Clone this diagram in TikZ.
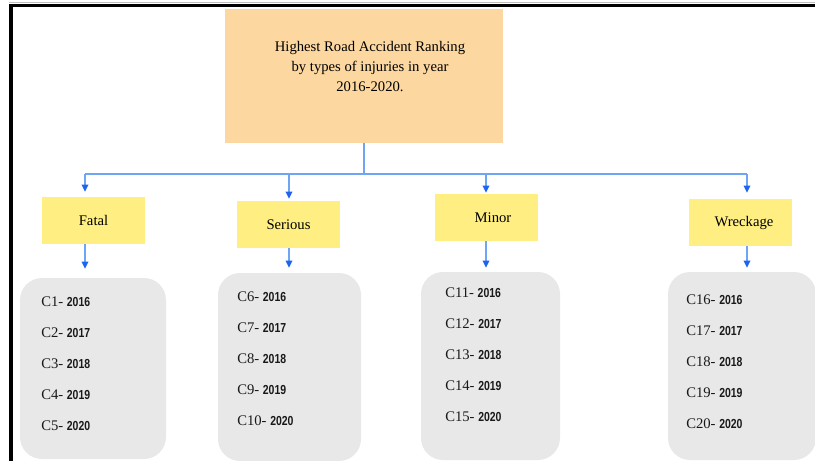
\documentclass[tikz,border=0pt]{standalone}
\usepackage{fontspec}
\setmainfont{Liberation Serif}
\newfontfamily\yearfont[FakeStretch=0.8]{Liberation Sans}
\usetikzlibrary{arrows.meta}

\definecolor{titlefill}{RGB}{252,215,159}
\definecolor{typefill}{RGB}{255,239,130}
\definecolor{listfill}{RGB}{232,232,232}
\definecolor{linkblue}{RGB}{110,165,245}
\definecolor{tipblue}{RGB}{30,100,240}

\def\px{0.75pt}
\tikzset{
  titlebox/.style={fill=titlefill, minimum width=278*\px, minimum height=134*\px, inner sep=0pt},
  typebox/.style={fill=typefill, minimum width=103*\px, minimum height=47*\px, inner sep=0pt,
    font=\fontsize{11}{13}\selectfont},
  listbox/.style={fill=listfill, rounded corners=22*\px, minimum height=188*\px, inner sep=0pt},
  item/.style={anchor=west, inner sep=0pt, text=black!90, font=\fontsize{11}{13}\selectfont},
  link/.style={draw=linkblue, line width=1.2*\px},
  tip/.style={-{Triangle[length=5.4pt, width=5pt, color=tipblue]}},
}

\begin{document}
\begin{tikzpicture}[x=\px, y=-\px]
    \useasboundingbox (0,0) rectangle (815,461);
    \draw[black!25, line width=1.5*\px] (9,2.5) -- (815,2.5);
    \draw[line width=3.5*\px] (11,461) -- (11,5.5) -- (815,5.5);

    \node[titlebox] (title) at (364,76) {};
    \node[align=center, font=\fontsize{11}{15}\selectfont] (heading) at (370,67)
        {Highest Road Accident Ranking\\by types of injuries in year\\2016-2020.};

    \node[typebox] (fatal) at (93.5,220.5) {Fatal};
    \node[typebox] (serious) at (288.5,224.5) {Serious};
    \node[typebox] (minor) at (486.5,217.5) {\hspace*{9.75pt}Minor};
    \node[typebox] (wreck) at (740.5,222.5) {\hspace*{5.25pt}Wreckage};

    \node[listbox, minimum width=146*\px, minimum height=181*\px] (list1) at (93,368.5) {};
    \node[listbox, minimum width=143*\px] (list2) at (289.5,367) {};
    \node[listbox, minimum width=139*\px] (list3) at (490.5,366) {};
    \node[listbox, minimum width=148*\px] (list4) at (742,366) {};

    % bus
    \coordinate (bus) at (title.south |- 0,174);
    \coordinate (d1) at (85,174);
    \coordinate (d2) at (289,174);
    \coordinate (d3) at (486,174);
    \coordinate (d4) at (747,174);
    \draw[link] (title.south) -- (bus);
    \draw[link] (d1) -- (d4);
    \foreach \d/\b/\g in {d1/fatal/5, d2/serious/2, d3/minor/1, d4/wreck/6}
        \draw[link, tip, shorten >=\g*\px] (\d) -- (\d |- \b.north);
    \foreach \d/\b/\l/\g in {d1/fatal/list1/9, d2/serious/list2/5, d3/minor/list3/4, d4/wreck/list4/4}
        \draw[link, tip, shorten >=\g*\px] (\d |- \b.south) -- (\d |- \l.north);

    % years per box
    \foreach \k/\x/\y in {1/41/302, 2/237/297, 3/445/293, 4/686/300}
        \foreach \i in {0,...,4} {
            \pgfmathtruncatemacro\c{5*(\k-1)+\i+1}
            \pgfmathtruncatemacro\yr{2016+\i}
            \node[item] (item\c) at (\x,\y+31*\i)
                {C\c- {\yearfont\bfseries\fontsize{9.8}{11}\selectfont\yr}};
        }
\end{tikzpicture}
\end{document}
